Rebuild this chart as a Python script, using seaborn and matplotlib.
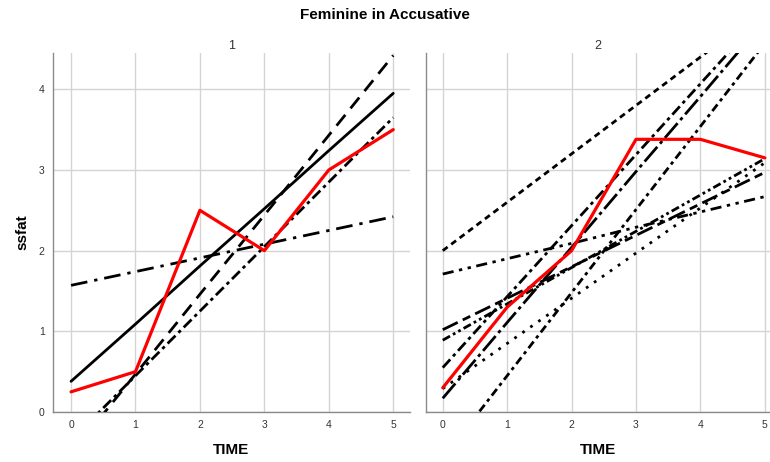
import matplotlib
matplotlib.use("Agg")
import matplotlib.pyplot as plt
import seaborn as sns
import pandas as pd

time = [0, 1, 2, 3, 4, 5]

# Panel 1 series
p1_solid = [0.38, 1.09, 1.81, 2.52, 3.24, 3.95]
p1_dashed = [-0.52, 0.47, 1.46, 2.44, 3.43, 4.42]
p1_dashdot = [1.57, 1.74, 1.91, 2.08, 2.25, 2.42]
p1_dashdotdot = [-0.35, 0.45, 1.25, 2.05, 2.85, 3.65]
p1_mean = [0.25, 0.5, 2.5, 2.0, 3.0, 3.5]

# Panel 2 series
p2_a = [2.0, 2.6, 3.2, 3.8, 4.4, 5.0]
p2_b = [1.71, 1.90, 2.09, 2.29, 2.48, 2.67]
p2_c = [1.02, 1.41, 1.80, 2.19, 2.58, 2.97]
p2_d = [0.89, 1.34, 1.79, 2.24, 2.69, 3.14]
p2_e = [0.55, 1.43, 2.31, 3.19, 4.07, 4.95]
p2_f = [0.29, 0.85, 1.41, 1.97, 2.53, 3.09]
p2_g = [0.17, 1.11, 2.04, 2.98, 3.91, 4.85]
p2_h = [-0.58, 0.45, 1.48, 2.51, 3.54, 4.57]
p2_mean = [0.3, 1.3, 2.0, 3.38, 3.38, 3.15]

panel_titles = ["1", "2"]
title = "Feminine in Accusative"
xlabel = "TIME"
ylabel = "ssfat"

panels = [
    [("s1", p1_solid, ""), ("s2", p1_dashed, (5, 3)), ("s3", p1_dashdot, (6, 2.5, 1.2, 2.5)),
     ("s4", p1_dashdotdot, (4, 1.5, 1.2, 1.5)), ("mean", p1_mean, "")],
    [("a", p2_a, (2.2, 1.6)), ("b", p2_b, (4, 2, 1.2, 2, 1.2, 2)), ("c", p2_c, (6, 2, 3, 2)),
     ("d", p2_d, (3, 1.2, 1, 1.2, 1, 1.2)), ("e", p2_e, (4, 1.5, 1.2, 1.5)),
     ("f", p2_f, (1, 2.5)), ("g", p2_g, (7, 1.5, 1.2, 1.5)), ("h", p2_h, (3, 1.5, 1.2, 1.5)),
     ("mean", p2_mean, "")],
]

fig = plt.figure(figsize=(7.7, 4.62), dpi=100)
sns.set_style("white")
plt.rcParams['font.family'] = ['Liberation Sans', 'DejaVu Sans']

axes = [fig.add_axes([53/770, 50/462, 357/770, 359/462]),
        fig.add_axes([426/770, 50/462, 344/770, 359/462])]
xlims = [(-0.28, 5.26), (-0.26, 5.08)]

for i, (ax, lines) in enumerate(zip(axes, panels)):
    rows = []
    for name, vals, _ in lines:
        for t, v in zip(time, vals):
            rows.append({"TIME": t, "ssfat": v, "line": name})
    df = pd.DataFrame(rows)
    dashes = {name: d for name, _, d in lines}
    palette = {name: ("#ff0000" if name == "mean" else "black") for name, _, _ in lines}
    sizes = {name: (2.3 if name == "mean" else 2.0) for name, _, _ in lines}
    sns.lineplot(data=df, x="TIME", y="ssfat", hue="line", style="line", size="line",
                 palette=palette, dashes=dashes, sizes=sizes, ax=ax, legend=False,
                 estimator=None, sort=False, zorder=3)
    ax.set_xlim(*xlims[i])
    ax.set_ylim(0, 4.45)
    ax.set_xticks(time)
    ax.set_yticks([0, 1, 2, 3, 4])
    ax.grid(True, color="#d4d4d4", linewidth=1.0)
    ax.set_axisbelow(True)
    for s in ["top", "right"]:
        ax.spines[s].set_visible(False)
    for s in ["left", "bottom"]:
        ax.spines[s].set_color("#8a8a8a")
        ax.spines[s].set_linewidth(1.0)
    ax.tick_params(axis="both", length=0, labelsize=7.5, colors="#333333", pad=6)
    ax.set_xlabel(xlabel, fontsize=11, fontweight="bold", labelpad=9, color="black")
    if i == 0:
        ax.set_ylabel(ylabel, fontsize=11, fontweight="bold", labelpad=7, color="black")
    else:
        ax.set_ylabel("")
        ax.set_yticklabels([])
    ax.set_title(panel_titles[i], fontsize=9, color="#333333", pad=3)

fig.text(0.5, 447/462, title, ha="center", va="center", fontsize=11,
         fontweight="bold", color="black")
fig.savefig("out.png", dpi=100)
